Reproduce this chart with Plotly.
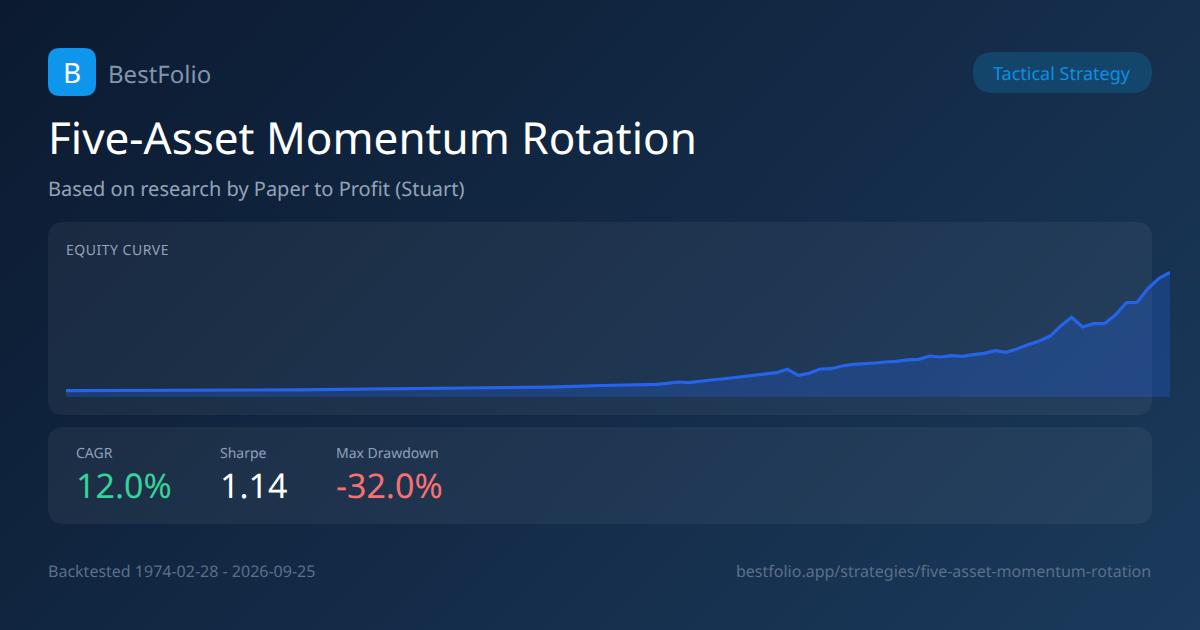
import base64
import plotly.graph_objects as go

FONT = "Noto Sans"
W, H = 1200, 630

equity = [
    6.3, 6.3, 6.3, 6.3, 6.3, 6.3, 6.4, 6.4, 6.5, 6.6,
    6.6, 6.7, 6.7, 6.8, 6.8, 6.8, 6.9, 6.9, 6.9, 6.9,
    7.1, 7.2, 7.3, 7.4, 7.5, 7.5, 7.6, 7.6, 7.7, 7.7,
    7.9, 8.0, 8.1, 8.3, 8.3, 8.5, 8.7, 8.9, 9.0, 9.0,
    9.0, 9.1, 9.3, 9.6, 9.9, 10.2, 10.8, 11.1, 11.2, 11.5,
    11.7, 12.0, 12.2, 12.4, 12.7, 13.7, 15.0, 14.4, 16.0, 17.0,
    18.0, 19.3, 20.7, 21.3, 22.7, 24.3, 27.7, 21.7, 23.7, 28.0,
    28.3, 31.0, 32.7, 33.0, 34.0, 35.0, 35.6, 37.2, 37.7, 41.0,
    40.0, 41.3, 40.7, 42.3, 43.7, 46.3, 44.7, 48.0, 52.3, 55.7,
    60.7, 71.0, 79.7, 70.0, 73.3, 73.3, 82.0, 94.3, 94.7, 108.7,
    118.7, 124.7,
]
metric_labels = ["CAGR", "Sharpe", "Max Drawdown"]
metric_values = ["12.0%", "1.14", "-32.0%"]
metric_colors = ["#34d399", "#ffffff", "#f87171"]
metric_x = [76, 220, 336]


def px(x):
    return x / W


def py(y):
    return 1 - y / H


def rounded(x0, y0, x1, y1, r):
    X0, X1 = px(x0), px(x1)
    Y0, Y1 = py(y0), py(y1)
    rx, ry = r / W, r / H
    return (
        f"M {X0+rx} {Y0} L {X1-rx} {Y0} Q {X1} {Y0} {X1} {Y0-ry} "
        f"L {X1} {Y1+ry} Q {X1} {Y1} {X1-rx} {Y1} "
        f"L {X0+rx} {Y1} Q {X0} {Y1} {X0} {Y1+ry} "
        f"L {X0} {Y0-ry} Q {X0} {Y0} {X0+rx} {Y0} Z"
    )


svg = (
    f'<svg xmlns="http://www.w3.org/2000/svg" width="{W}" height="{H}" viewBox="0 0 {W} {H}">'
    '<defs><linearGradient id="g" gradientUnits="userSpaceOnUse" x1="142.5" y1="-142.5" x2="1057.5" y2="772.5">'
    '<stop offset="0" stop-color="#0b1a30"/><stop offset="1" stop-color="#1b3a5c"/>'
    '</linearGradient></defs>'
    f'<rect width="{W}" height="{H}" fill="url(#g)"/></svg>'
)
bg_uri = "data:image/svg+xml;base64," + base64.b64encode(svg.encode()).decode()

fig = go.Figure()
fig.add_trace(
    go.Scatter(
        x=list(range(len(equity))),
        y=equity,
        mode="lines",
        line=dict(color="#2563eb", width=3.2),
        fill="tozeroy",
        fillcolor="rgba(37,99,235,0.28)",
        hoverinfo="skip",
        showlegend=False,
    )
)

CARD = "rgba(255,255,255,0.05)"
shapes = [
    dict(type="path", xref="paper", yref="paper", layer="below", path=rounded(48, 222, 1152, 415, 16),
         fillcolor=CARD, line=dict(width=0)),
    dict(type="path", xref="paper", yref="paper", layer="below", path=rounded(48, 427, 1152, 524, 16),
         fillcolor=CARD, line=dict(width=0)),
    dict(type="path", xref="paper", yref="paper", layer="below", path=rounded(48, 48, 96, 96, 12),
         fillcolor="#0e96ec", line=dict(width=0)),
    dict(type="path", xref="paper", yref="paper", layer="below", path=rounded(973, 52, 1152, 93, 20.5),
         fillcolor="rgba(14,165,233,0.2)", line=dict(width=0)),
]


def label(text, x, y, size, color, anchor="left"):
    return dict(
        text=text, x=px(x), y=py(y), xref="paper", yref="paper", xanchor=anchor, yanchor="middle",
        showarrow=False, borderpad=0, borderwidth=0, align=anchor,
        font=dict(family=FONT, size=size, color=color),
    )


annotations = [
    label("B", 71.5, 72, 28, "#ffffff", "center"),
    label("BestFolio", 108, 73, 24, "#8295ae"),
    label("Tactical Strategy", 1062, 72.5, 18, "#0d8fe3", "center"),
    label("Five-Asset Momentum Rotation", 48, 136.5, 44, "#ffffff"),
    label("Based on research by Paper to Profit (Stuart)", 48, 188.5, 20, "#94a3b8"),
    label("EQUITY CURVE", 66, 250, 14, "#94a3b8"),
    label("Backtested 1974-02-28 - 2026-09-25", 48, 571, 16, "#5b6f89"),
    label("bestfolio.app/strategies/five-asset-momentum-rotation", 1151, 571, 16, "#5b6f89", "right"),
]
for name, val, col, lx in zip(metric_labels, metric_values, metric_colors, metric_x):
    annotations.append(label(name, lx, 452.5, 14, "#8ea0b8"))
    annotations.append(label(val, lx, 485, 34, col))

fig.update_layout(
    width=W,
    height=H,
    margin=dict(l=0, r=0, t=0, b=0),
    paper_bgcolor="#12233f",
    plot_bgcolor="rgba(0,0,0,0)",
    showlegend=False,
    hovermode=False,
    xaxis=dict(domain=[px(66), px(1170)], range=[0, len(equity) - 1], visible=False, fixedrange=True),
    yaxis=dict(domain=[py(397), py(262)], range=[0, 135], visible=False, fixedrange=True),
    images=[dict(source=bg_uri, xref="paper", yref="paper", x=0, y=1, sizex=1, sizey=1,
                 sizing="stretch", xanchor="left", yanchor="top", layer="below")],
    shapes=shapes,
    annotations=annotations,
)

fig.write_html(
    "out.html",
    config={"displayModeBar": False, "staticPlot": True},
    post_script=(
        "document.body.style.margin='0';document.body.style.overflow='hidden';"
        "document.querySelectorAll('text').forEach(function(t){"
        "t.style.textRendering='geometricPrecision';"
        "if(t.textContent==='EQUITY CURVE'){t.style.letterSpacing='0.5px';}"
        "});"
    ),
)
